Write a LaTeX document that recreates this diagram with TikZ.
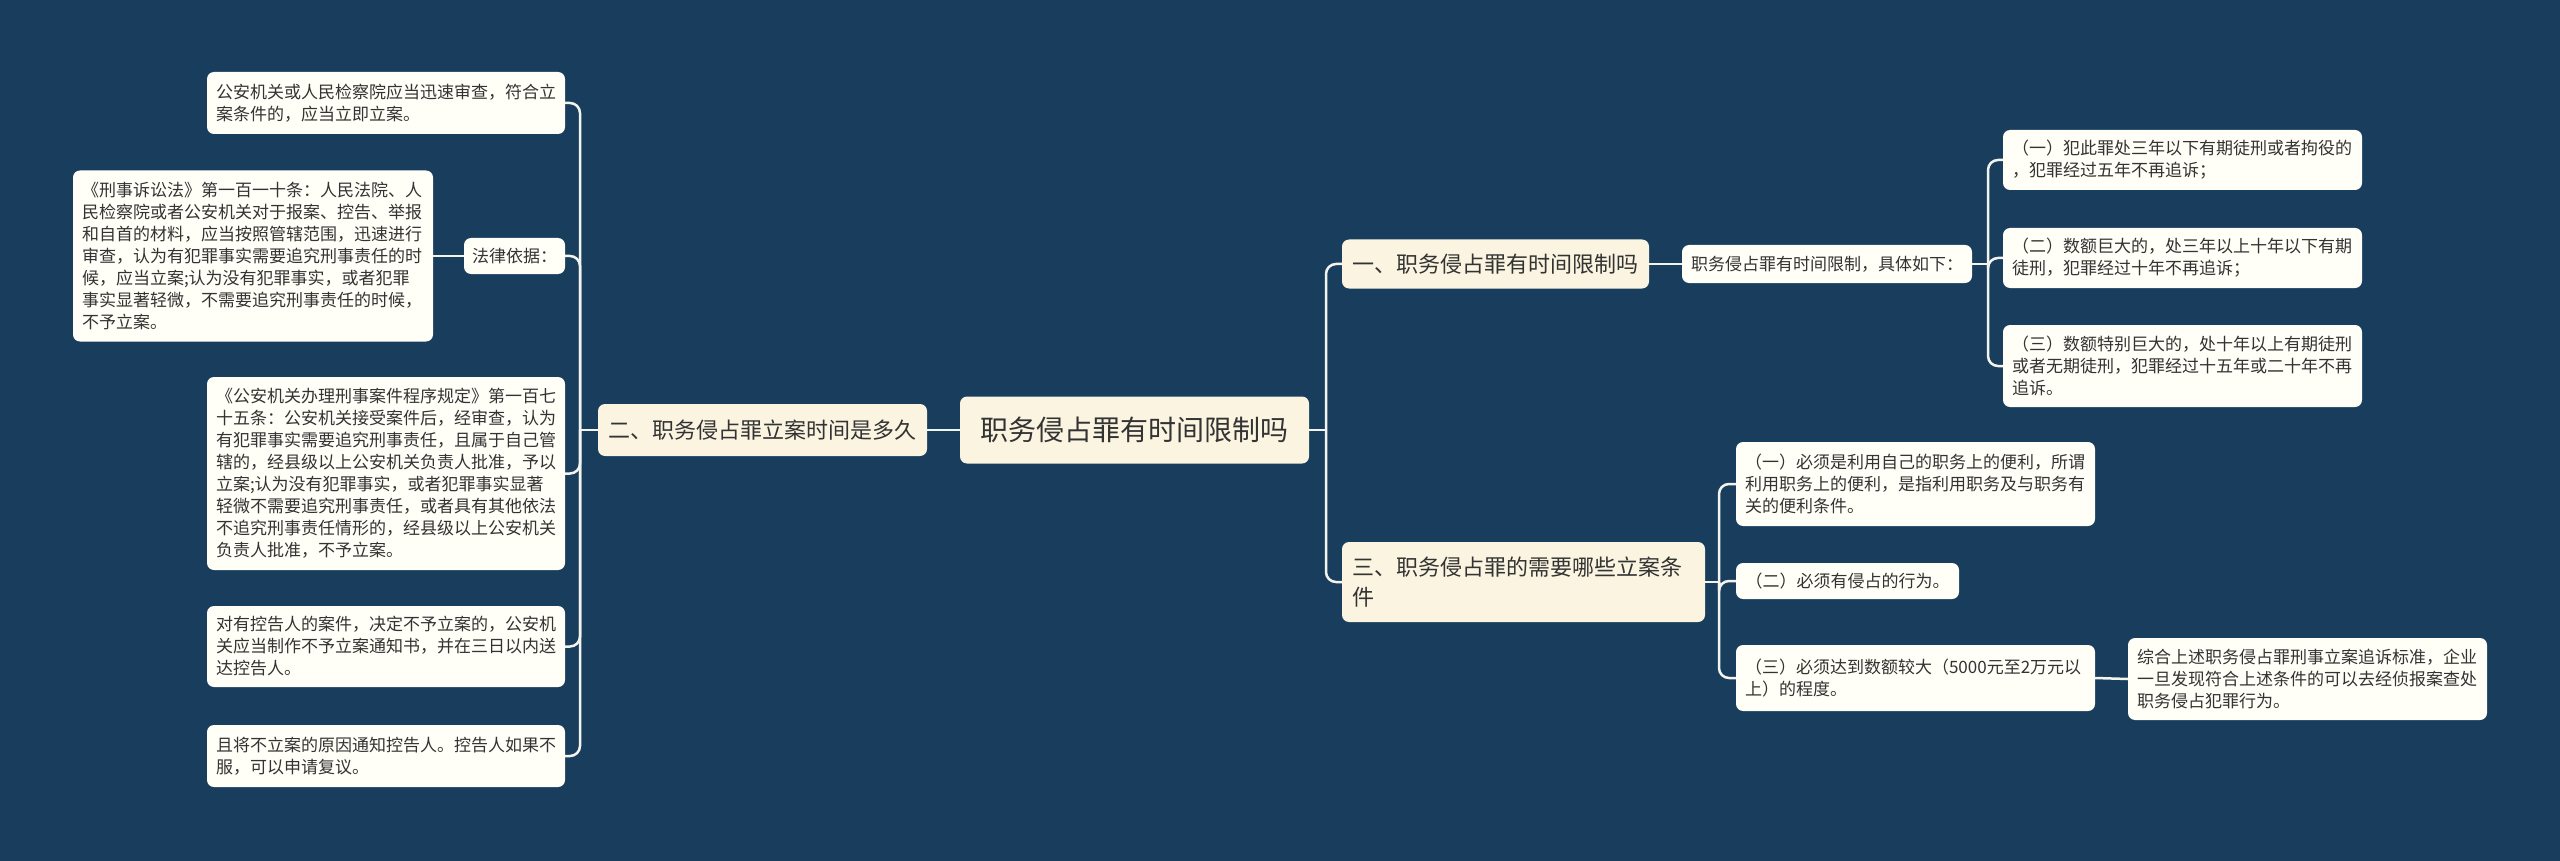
\documentclass[tikz,border=0pt]{standalone}
\usepackage{fontspec}
\newfontfamily\cjk{Noto Sans CJK SC}
\definecolor{bg}{HTML}{183D5D}
\definecolor{mainc}{HTML}{FAF4E1}
\definecolor{leafc}{HTML}{FFFEF7}
\definecolor{txt}{HTML}{333333}
\definecolor{linec}{HTML}{F4F4EE}
\begin{document}
\begin{tikzpicture}[x=1pt,y=-1pt,
  conn/.style={draw=linec, line width=2.5pt, rounded corners=10pt},
  box/.style={rounded corners=7pt, inner sep=0pt, text=txt},
  leaf/.style={box, fill=leafc, inner xsep=9pt, align=left, font=\cjk\fontsize{17pt}{22pt}\selectfont},
  leafone/.style={box, fill=leafc, font=\cjk\fontsize{17pt}{22pt}\selectfont},
  mainbox/.style={box, fill=mainc, inner xsep=10pt, align=left, font=\cjk\fontsize{22pt}{30pt}\selectfont},
  mainone/.style={box, fill=mainc, font=\cjk\fontsize{22pt}{30pt}\selectfont},
  rootbox/.style={box, fill=mainc, font=\cjk\fontsize{28pt}{34pt}\selectfont}
]
\fill[bg] (0,0) rectangle (2560,861);
\useasboundingbox (0,0) rectangle (2560,861);

% root
\node[rootbox, minimum width=349pt, minimum height=67pt] (root) at (1134.5,430) {职务侵占罪有时间限制吗};

% left branch
\node[mainone, minimum width=329pt, minimum height=52pt] (L2) at (762.5,430) {二、职务侵占罪立案时间是多久};

\node[leaf, text width=340pt, minimum height=62pt] (A1) at (386,103) {公安机关或人民检察院应当迅速审查，符合立\\案条件的，应当立即立案。};
\node[leafone, minimum width=101pt, minimum height=36pt] (A2) at (514.5,256) {法律依据：};
\node[leaf, text width=342pt, minimum height=171pt] (A2c) at (253,256) {《刑事诉讼法》第一百一十条：人民法院、人\\民检察院或者公安机关对于报案、控告、举报\\和自首的材料，应当按照管辖范围，迅速进行\\审查，认为有犯罪事实需要追究刑事责任的时\\候，应当立案;认为没有犯罪事实，或者犯罪\\事实显著轻微，不需要追究刑事责任的时候，\\不予立案。};
\node[leaf, text width=340pt, minimum height=193pt] (A3) at (386,473.5) {《公安机关办理刑事案件程序规定》第一百七\\十五条：公安机关接受案件后，经审查，认为\\有犯罪事实需要追究刑事责任，且属于自己管\\辖的，经县级以上公安机关负责人批准，予以\\立案;认为没有犯罪事实，或者犯罪事实显著\\轻微不需要追究刑事责任，或者具有其他依法\\不追究刑事责任情形的，经县级以上公安机关\\负责人批准，不予立案。};
\node[leaf, text width=340pt, minimum height=81pt] (A4) at (386,646.5) {对有控告人的案件，决定不予立案的，公安机\\关应当制作不予立案通知书，并在三日以内送\\达控告人。};
\node[leaf, text width=340pt, minimum height=62pt] (A5) at (386,756) {且将不立案的原因通知控告人。控告人如果不\\服，可以申请复议。};

% right branch 1
\node[mainone, minimum width=307pt, minimum height=49pt] (R1) at (1495.5,264) {一、职务侵占罪有时间限制吗};
\node[leafone, minimum width=290pt, minimum height=38pt] (R1c) at (1827,264) {职务侵占罪有时间限制，具体如下：};
\node[leaf, text width=341pt, minimum height=60pt] (R1c1) at (2182.5,160) {（一）犯此罪处三年以下有期徒刑或者拘役的\\，犯罪经过五年不再追诉；};
\node[leaf, text width=341pt, minimum height=60pt] (R1c2) at (2182.5,258) {（二）数额巨大的，处三年以上十年以下有期\\徒刑，犯罪经过十年不再追诉；};
\node[leaf, text width=341pt, minimum height=82pt] (R1c3) at (2182.5,366) {（三）数额特别巨大的，处十年以上有期徒刑\\或者无期徒刑，犯罪经过十五年或二十年不再\\追诉。};

% right branch 3
\node[mainbox, text width=343pt, minimum height=80pt] (R3) at (1523.5,582) {三、职务侵占罪的需要哪些立案条\\件};
\node[leaf, text width=341pt, minimum height=84pt] (R3c1) at (1915.5,484) {（一）必须是利用自己的职务上的便利，所谓\\利用职务上的便利，是指利用职务及与职务有\\关的便利条件。};
\node[leafone, minimum width=223pt, minimum height=36pt] (R3c2) at (1847.5,581) {（二）必须有侵占的行为。};
\node[leaf, text width=341pt, minimum height=66pt] (R3c3) at (1915.5,678) {（三）必须达到数额较大（5000元至2万元以\\上）的程度。};
\node[leaf, text width=341pt, minimum height=82pt] (R3c3c) at (2307.5,679) {综合上述职务侵占罪刑事立案追诉标准，企业\\一旦发现符合上述条件的可以去经侦报案查处\\职务侵占犯罪行为。};

% junction coordinates
\coordinate (Lb) at (580,430);
\coordinate (Rb) at (1326,430);
\coordinate (R1b) at (1988,264);
\coordinate (R3b) at (1719,582);

% connectors
\draw[conn] (root.west) -- (L2.east);
\draw[conn] (L2.west) -- (Lb);
\draw[conn] (Lb) |- (A1.east);
\draw[conn] (Lb) |- (A2.east);
\draw[conn] (Lb) |- (A3.east);
\draw[conn] (Lb) |- (A4.east);
\draw[conn] (Lb) |- (A5.east);
\draw[conn] (A2.west) -- (A2c.east);

\draw[conn] (root.east) -- (Rb);
\draw[conn] (Rb) |- (R1.west);
\draw[conn] (Rb) |- (R3.west);
\draw[conn] (R1.east) -- (R1c.west);
\draw[conn] (R1c.east) -- (R1b);
\draw[conn] (R1b) |- (R1c1.west);
\draw[conn] (R1b) |- (R1c2.west);
\draw[conn] (R1b) |- (R1c3.west);
\draw[conn] (R3.east) -- (R3b);
\draw[conn] (R3b) |- (R3c1.west);
\draw[conn] (R3b) |- (R3c2.west);
\draw[conn] (R3b) |- (R3c3.west);
\draw[conn] (R3c3.east) -- (R3c3c.west);
\end{tikzpicture}
\end{document}
